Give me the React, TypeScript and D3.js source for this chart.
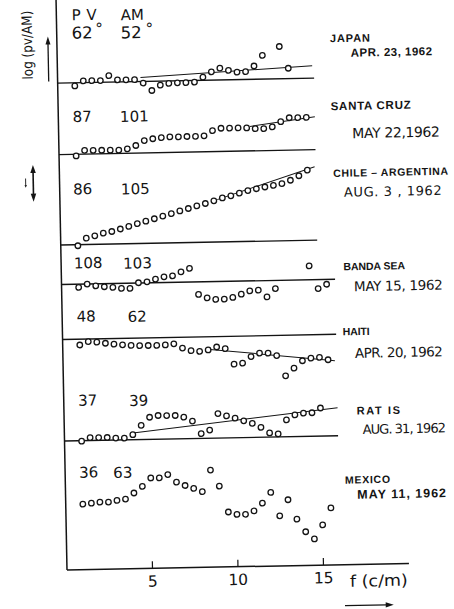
import React from 'react';
import * as d3 from 'd3';

// Frequency (cycles per minute) of each spectral estimate
const FREQ = [1, 1.5, 2, 2.5, 3, 3.5, 4, 4.5, 5, 5.5, 6, 6.5, 7, 7.5, 8, 8.5, 9, 9.5, 10, 10.5, 11, 11.5, 12, 12.5, 13, 13.5, 14, 14.5, 15, 15.5];

// log(pv/AM) for each event, one value per frequency (null = no estimate)
const JAPAN = [-0.08, 0.043, 0.045, 0.043, 0.163, 0.053, 0.05, 0.048, -0.04, -0.23, -0.1, -0.06, -0.05, -0.05, -0.04, 0.078, 0.208, 0.295, 0.235, 0.188, 0.195, 0.333, 0.595, null, 0.808, 0.26, null, null, null, null];
const SANTA_CRUZ = [-0.043, 0.093, 0.09, 0.088, 0.085, 0.083, 0.11, 0.19, 0.31, 0.35, 0.375, 0.39, 0.385, 0.39, 0.39, 0.4, 0.525, 0.58, 0.58, 0.58, 0.575, 0.555, 0.55, 0.59, 0.715, 0.81, 0.81, 0.81, null, null];
const CHILE_ARGENTINA = [-0.025, 0.16, 0.215, 0.278, 0.315, 0.373, 0.435, 0.5, 0.555, 0.613, 0.675, 0.733, 0.795, 0.853, 0.915, 0.97, 1.033, 1.1, 1.15, 1.213, 1.273, 1.313, 1.353, 1.39, 1.43, 1.51, 1.618, 1.755, null, null];
const BANDA_SEA = [-0.078, 0, -0.048, -0.075, -0.095, -0.125, -0.128, 0.008, 0.028, 0.09, 0.145, 0.165, 0.26, 0.343, -0.313, -0.403, -0.445, -0.443, -0.405, -0.328, -0.248, -0.235, -0.408, -0.203, null, null, null, 0.348, -0.223, -0.12];
const HAITI = [-0.145, -0.065, -0.08, -0.113, -0.14, -0.16, -0.18, -0.19, -0.19, -0.19, -0.185, -0.16, -0.27, -0.34, -0.36, -0.33, -0.26, -0.305, -0.698, -0.675, -0.515, -0.433, -0.438, -0.503, -1.013, -0.825, -0.645, -0.583, -0.57, -0.633];
const RAT_IS = [-0.013, 0.073, 0.07, 0.068, 0.05, 0.045, 0.125, 0.355, 0.553, 0.593, 0.588, 0.585, 0.54, 0.438, 0.12, 0.205, 0.613, 0.55, 0.49, 0.42, 0.35, 0.248, 0.103, 0.075, 0.423, 0.543, 0.583, 0.588, 0.703, null];
const MEXICO = [0.063, 0.083, 0.105, 0.103, 0.14, 0.17, 0.318, 0.48, 0.685, 0.683, 0.763, 0.568, 0.48, 0.403, 0.318, 0.855, 0.45, -0.203, -0.265, -0.268, -0.188, 0.003, 0.265, -0.323, 0.075, -0.413, -0.733, -0.918, -0.57, -0.15];

// Fitted trend segments: [frequency, log(pv/AM)]
const JAPAN_TREND = [[4.85, 0.1], [14.9, 0.313]];
const SANTA_CRUZ_TREND = [[11.2, 0.613], [15.0, 0.825]];
const CHILE_TREND = [[9.2, 1.06], [14.93, 1.835]];
const HAITI_TREND = [[8.6, -0.318], [15.9, -0.66]];
const RAT_IS_TREND = [[4.13, 0.175], [16.0, 0.703]];

const STATIONS = ['JAPAN', 'SANTA CRUZ', 'CHILE – ARGENTINA', 'BANDA SEA', 'HAITI', 'RAT IS', 'MEXICO'];
const DATES = ['APR. 23, 1962', 'MAY 22,1962', 'AUG. 3 , 1962', 'MAY 15, 1962', 'APR. 20, 1962', 'AUG. 31, 1962', 'MAY 11, 1962'];
const PV_DIST = ['62', '87', '86', '108', '48', '37', '36'];
const AM_DIST = ['52', '101', '105', '103', '62', '39', '63'];
const ZERO_END = [15, 15, 15, 16, 16, 16, null];

const X_TICKS = [5, 10, 15];

const SERIES = [JAPAN, SANTA_CRUZ, CHILE_ARGENTINA, BANDA_SEA, HAITI, RAT_IS, MEXICO];
const TRENDS = [JAPAN_TREND, SANTA_CRUZ_TREND, CHILE_TREND, null, HAITI_TREND, RAT_IS_TREND, null];

// ---- layout ----
const W = 454;
const H = 609;
const ORIGIN_X = 67;
const AXIS_Y = 570;
const PX_PER_UNIT = 40;
const PANEL_ZERO_Y = [83, 154.5, 245, 284.5, 339.5, 441, 507];
// [x, baseline y, length, font size]
const NAME_POS: [number, number, number, number][] = [
  [340.1, 47.4, 40, 11],
  [339.5, 115.3, 80, 11.5],
  [340.8, 182.1, 114.7, 10.5],
  [349.1, 275.7, 61.7, 10.5],
  [347.2, 340.7, 27, 10.5],
  [359.7, 420.2, 43.3, 11],
  [346.7, 489, 45, 10.5],
];
// [x, baseline y, length, font size, bold]
const DATE_POS: [number, number, number, number, boolean][] = [
  [360.6, 62.2, 81.3, 11.5, true],
  [360.6, 143.8, 87.7, 14, false],
  [351.2, 202.2, 97.7, 13, false],
  [359.4, 296.8, 88.7, 13.5, false],
  [359.1, 363.5, 87.7, 13.5, false],
  [365.3, 439.7, 83.3, 13, false],
  [358.7, 504.4, 88.7, 12.5, true],
];
const PV_POS: [number, number][] = [[81.9, 38.9], [81.3, 122.1], [80.5, 194.6], [79.8, 268.6], [81.5, 322], [81.4, 406], [81.1, 478]];
const AM_POS: [number, number][] = [[130.9, 39.7], [128.7, 123], [128.3, 195.6], [129.1, 269.8], [132.5, 323.2], [132.4, 407.2], [115.1, 478.9]];

const INK = '#141414';
const NUM_FONT = "'DejaVu Sans', sans-serif";
const NAME_FONT = "'Liberation Sans', Arial, sans-serif";

const x = d3.scaleLinear().domain([0, 20]).range([ORIGIN_X, ORIGIN_X + 20 * 17.1]);

function Panel({ idx }: { idx: number }) {
  const zero = PANEL_ZERO_Y[idx];
  const y = d3.scaleLinear().domain([0, 1]).range([zero, zero - PX_PER_UNIT]);
  const values = SERIES[idx];
  const trend = TRENDS[idx];
  const end = ZERO_END[idx];
  const line = d3.line<number[]>().x((d) => x(d[0])).y((d) => y(d[1]));
  return (
    <g>
      {end !== null && (
        <line x1={x(0)} x2={x(end)} y1={y(0)} y2={y(0)} stroke={INK} strokeWidth={1.4} />
      )}
      {trend && <path d={line(trend) || ''} fill="none" stroke={INK} strokeWidth={1} />}
      {FREQ.map((f, j) =>
        values[j] === null ? null : (
          <circle key={j} cx={x(f)} cy={y(values[j] as number)} r={2.75} fill="#fff" stroke={INK} strokeWidth={1.3} />
        )
      )}
    </g>
  );
}

export default function App() {
  const arrowHead = (cx: number, tipY: number, dir: number, w: number, len: number) =>
    `M${cx},${tipY} L${cx - w / 2},${tipY + dir * len} L${cx + w / 2},${tipY + dir * len} Z`;

  return (
    <svg
      width={W}
      height={H}
      viewBox={`0 0 ${W} ${H}`}
      style={{ position: 'absolute', left: 0, top: 0, background: '#fff' }}
    >
      <rect width={W} height={H} fill="#fff" />
      <g transform={`rotate(-1.1, ${ORIGIN_X}, ${AXIS_Y})`}>
        {/* axes */}
        <line x1={ORIGIN_X} x2={ORIGIN_X} y1={-15} y2={AXIS_Y} stroke={INK} strokeWidth={1.5} />
        <line x1={ORIGIN_X} x2={x(20)} y1={AXIS_Y} y2={AXIS_Y} stroke={INK} strokeWidth={1.5} />
        {X_TICKS.map((t) => (
          <g key={t}>
            <line x1={x(t)} x2={x(t)} y1={AXIS_Y} y2={AXIS_Y - 7} stroke={INK} strokeWidth={1.2} />
            <text x={x(t)} y={588.3} textAnchor="middle" fontFamily={NUM_FONT} fontSize={15.5} fill={INK}>
              {t}
            </text>
          </g>
        ))}
        <text x={349.6} y={592.2} fontFamily={NUM_FONT} fontSize={16} fill={INK} textLength={58} lengthAdjust="spacingAndGlyphs">
          f (c/m)
        </text>
        <line x1={344.3} x2={386} y1={611} y2={611} stroke={INK} strokeWidth={1.4} />
        <path d={`M393,611 L385,608.3 L385,613.7 Z`} fill={INK} />

        {/* y axis label and arrows */}
        <text
          x={42.2}
          y={44.5}
          transform="rotate(-90, 42.2, 44.5)"
          textAnchor="middle"
          fontFamily={NUM_FONT}
          fontSize={14}
          fill={INK}
          textLength={69}
          lengthAdjust="spacingAndGlyphs"
        >
          log (pv/AM)
        </text>
        <line x1={58.1} x2={58.1} y1={42} y2={81.3} stroke={INK} strokeWidth={1.3} />
        <path d={arrowHead(58.1, 36.3, 1, 5, 8)} fill={INK} />
        <line x1={40.7} x2={40.7} y1={170} y2={195.5} stroke={INK} strokeWidth={1.6} />
        <path d={arrowHead(40.7, 164.4, 1, 5.5, 8)} fill={INK} />
        <path d={arrowHead(40.7, 201.1, -1, 5.5, 8)} fill={INK} />
        <line x1={33.1} x2={33.1} y1={177.8} y2={185} stroke={INK} strokeWidth={0.9} />
        <path d={arrowHead(33.1, 187, -1, 2.4, 2.6)} fill={INK} />

        {/* column headings */}
        <text x={82.3} y={20.5} fontFamily={NUM_FONT} fontSize={15} fill={INK} textLength={25} lengthAdjust="spacing">
          PV
        </text>
        <text x={131.3} y={21.4} fontFamily={NUM_FONT} fontSize={15} fill={INK}>
          AM
        </text>

        {/* panels */}
        {SERIES.map((_, i) => (
          <Panel key={i} idx={i} />
        ))}

        {/* epicentral distances */}
        {PV_DIST.map((d, i) => (
          <text key={'pv' + i} x={PV_POS[i][0]} y={PV_POS[i][1]} fontFamily={NUM_FONT} fontSize={i === 0 ? 16.5 : 15} fill={INK}>
            {d}
          </text>
        ))}
        {AM_DIST.map((d, i) => (
          <text key={'am' + i} x={AM_POS[i][0]} y={AM_POS[i][1]} fontFamily={NUM_FONT} fontSize={i === 0 ? 16.5 : 15} fill={INK}>
            {d}
          </text>
        ))}
        <text x={105.7} y={34.3} fontFamily={NUM_FONT} fontSize={15} fill={INK}>°</text>
        <text x={156} y={35.3} fontFamily={NUM_FONT} fontSize={15} fill={INK}>°</text>

        {/* event names and dates */}
        {STATIONS.map((s, i) => (
          <text
            key={'n' + i}
            x={NAME_POS[i][0]}
            y={NAME_POS[i][1]}
            fontFamily={NAME_FONT}
            fontWeight="bold"
            fontSize={NAME_POS[i][3]}
            fill={INK}
            textLength={NAME_POS[i][2]}
            lengthAdjust="spacing"
          >
            {s}
          </text>
        ))}
        {DATES.map((s, i) => (
          <text
            key={'d' + i}
            x={DATE_POS[i][0]}
            y={DATE_POS[i][1]}
            fontFamily={DATE_POS[i][4] ? NAME_FONT : NUM_FONT}
            fontWeight={DATE_POS[i][4] ? 'bold' : 'normal'}
            fontSize={DATE_POS[i][3]}
            fill={INK}
            textLength={DATE_POS[i][2]}
            lengthAdjust="spacing"
          >
            {s}
          </text>
        ))}
      </g>
    </svg>
  );
}
